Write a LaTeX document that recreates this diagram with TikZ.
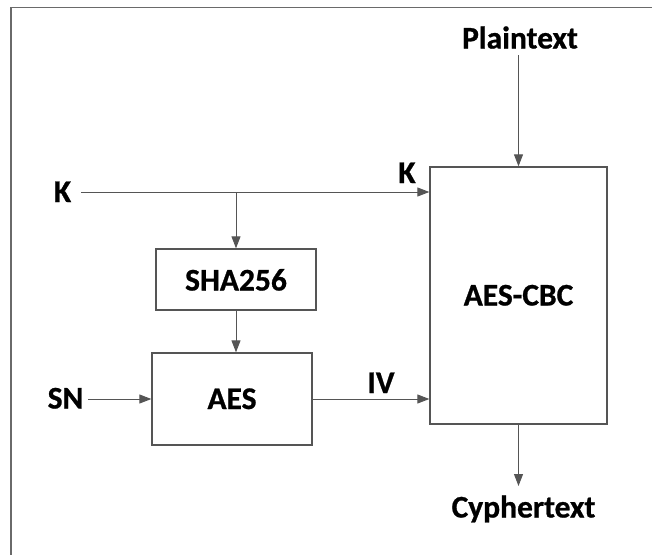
\documentclass[tikz,border=0pt]{standalone}
\usepackage{fontspec}
\setmainfont{Carlito}[BoldFeatures={FakeBold=0.8}]
\usetikzlibrary{arrows.meta}
\definecolor{linegray}{HTML}{555555}
\definecolor{framegray}{HTML}{6A6A6A}
\tikzset{
  lbl/.style={font=\fontsize{31.5}{31.5}\selectfont\bfseries, inner sep=0pt, anchor=base},
  block/.style={draw=linegray, line width=1.3pt, inner sep=0pt},
  flow/.style={draw=linegray, line width=1pt, -{Triangle[length=12pt,width=9pt]}},
  wire/.style={draw=linegray, line width=1pt}
}
\begin{document}
\begin{tikzpicture}[x=1pt,y=-1pt]
\useasboundingbox (0,0) rectangle (652,554);
% outer frame, only its top and left edges fall inside the page
\draw[framegray, line width=1.5pt] (11,560) -- (11,7.5) -- (660,7.5);

% blocks
\node[block, minimum width=160pt, minimum height=61pt] (sha) at (236,279.5) {};
\node[block, minimum width=160pt, minimum height=92pt] (aes) at (232,399) {};
\node[block, minimum width=177pt, minimum height=257pt] (cbc) at (518.5,295.5) {};

% block titles
\node[lbl] (shat) at (236,290.5) {SHA256};
\node[lbl] (aest) at (232,409) {AES};
\node[lbl] (cbct) at (518.5,305.5) {AES-CBC};

% outside labels
\node[lbl] (kl) at (62.5,202) {K};
\node[lbl] (kr) at (407,183) {K};
\node[lbl] (sn) at (65.5,408.5) {SN};
\node[lbl] (iv) at (381,393) {IV};
\node[lbl] (pt) at (520,48.5) {Plaintext};
\node[lbl] (ct) at (523.5,517.5) {Cyphertext};

% connector ends
\coordinate (kin) at (81,192);
\coordinate (ksplit) at (236,192);
\coordinate (snin) at (88,399);
\coordinate (ptout) at (518.5,55);
\coordinate (ctin) at (518.5,486);

% connectors
\draw[flow] (kin) -- (kin -| cbc.west);
\draw[flow] (ksplit) -- (sha.north);
\draw[flow] (sha.south) -- (sha.south |- aes.north);
\draw[flow] (snin) -- (aes.west);
\draw[flow] (aes.east) -- (aes.east -| cbc.west);
\draw[flow] (ptout) -- (cbc.north);
\draw[flow] (cbc.south) -- (ctin);
\end{tikzpicture}
\end{document}
